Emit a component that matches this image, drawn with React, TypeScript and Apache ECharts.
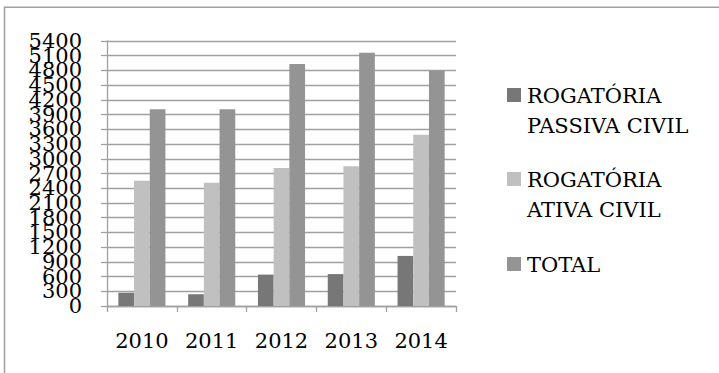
import React, { useEffect, useRef } from "react";
import * as echarts from "echarts";

const years = ["2010", "2011", "2012", "2013", "2014"];
const seriesNames = ["ROGATÓRIA PASSIVA CIVIL", "ROGATÓRIA ATIVA CIVIL", "TOTAL"];
const legendLabels = ["ROGATÓRIA\nPASSIVA CIVIL", "ROGATÓRIA\nATIVA CIVIL", "TOTAL"];
const passiva = [270, 240, 640, 650, 1020];
const ativa = [2550, 2510, 2810, 2850, 3490];
const total = [4010, 4010, 4930, 5160, 4800];
const colors = ["#777777", "#c0c0c0", "#949494"];
const yMin = 0;
const yMax = 5400;
const yStep = 300;

const FONT = "DejaVu Serif";
const GRID_COLOR = "#a0a0a0";

export default function App() {
  const ref = useRef<HTMLDivElement>(null);
  useEffect(() => {
    document.body.style.margin = "0";
    if (!ref.current) return;
    const chart = echarts.init(ref.current, undefined, { renderer: "svg" });
    const data = [passiva, ativa, total];
    const legendTops = [88, 172, 257];
    const legendGraphics: any[] = [];
    legendLabels.forEach((lab, i) => {
      legendGraphics.push({
        type: "rect",
        shape: { x: 507, y: legendTops[i], width: 14, height: 14 },
        style: { fill: colors[i] },
      });
      const lines = lab.split("\n").length;
      legendGraphics.push({
        type: "text",
        x: 527,
        y: legendTops[i] + 7.5 + (lines - 1) * 15,
        style: {
          text: lab,
          fontSize: 21,
          fontFamily: FONT,
          fill: "#000",
          lineHeight: 30,
          verticalAlign: "middle",
          align: "left",
        },
      });
    });
    const labelStyle = {
      color: "#000",
      fontSize: 21,
      fontFamily: FONT,
      margin: 25,
      hideOverlap: false,
      formatter: (v: number) => String(v),
    };
    chart.setOption({
      animation: false,
      backgroundColor: "#fff",
      grid: { left: 107, right: 263, top: 41, bottom: 67, containLabel: false },
      xAxis: {
        type: "category",
        data: years,
        boundaryGap: true,
        axisLine: { show: true, lineStyle: { color: GRID_COLOR, width: 1.3 } },
        axisTick: { show: true, length: 6, alignWithLabel: false, lineStyle: { color: GRID_COLOR, width: 1.3 } },
        axisLabel: { color: "#000", fontSize: 21, fontFamily: FONT, margin: 24 },
        splitLine: { show: false },
      },
      yAxis: [
        {
          type: "value",
          position: "left",
          min: yMin,
          max: yMax,
          interval: yStep,
          axisLine: { show: true, lineStyle: { color: GRID_COLOR, width: 1.3 } },
          axisTick: { show: true, length: 6, lineStyle: { color: GRID_COLOR, width: 1.3 } },
          axisLabel: { ...labelStyle, showMinLabel: false, showMaxLabel: false },
          splitLine: { show: true, lineStyle: { color: GRID_COLOR, width: 1.3 } },
        },
        {
          type: "value",
          position: "left",
          offset: 0,
          min: yMin,
          max: yMax,
          interval: yMax - yMin,
          axisLine: { show: false },
          axisTick: { show: true, length: 6, lineStyle: { color: GRID_COLOR, width: 1.3 } },
          axisLabel: { ...labelStyle, showMinLabel: true, showMaxLabel: true },
          splitLine: { show: false },
        },
      ],
      series: seriesNames.map((name, i) => ({
        name,
        type: "bar",
        yAxisIndex: 0,
        data: data[i],
        barWidth: 15.7,
        barGap: "0%",
        itemStyle: { color: colors[i] },
      })),
      graphic: [
        {
          type: "polyline",
          shape: { points: [[4.5, 373], [4.5, 7.2], [719, 7.2]] },
          style: { stroke: GRID_COLOR, lineWidth: 1.5, fill: null },
        },
        ...legendGraphics,
      ],
    });
    return () => chart.dispose();
  }, []);
  return <div ref={ref} style={{ width: 719, height: 373 }} />;
}
